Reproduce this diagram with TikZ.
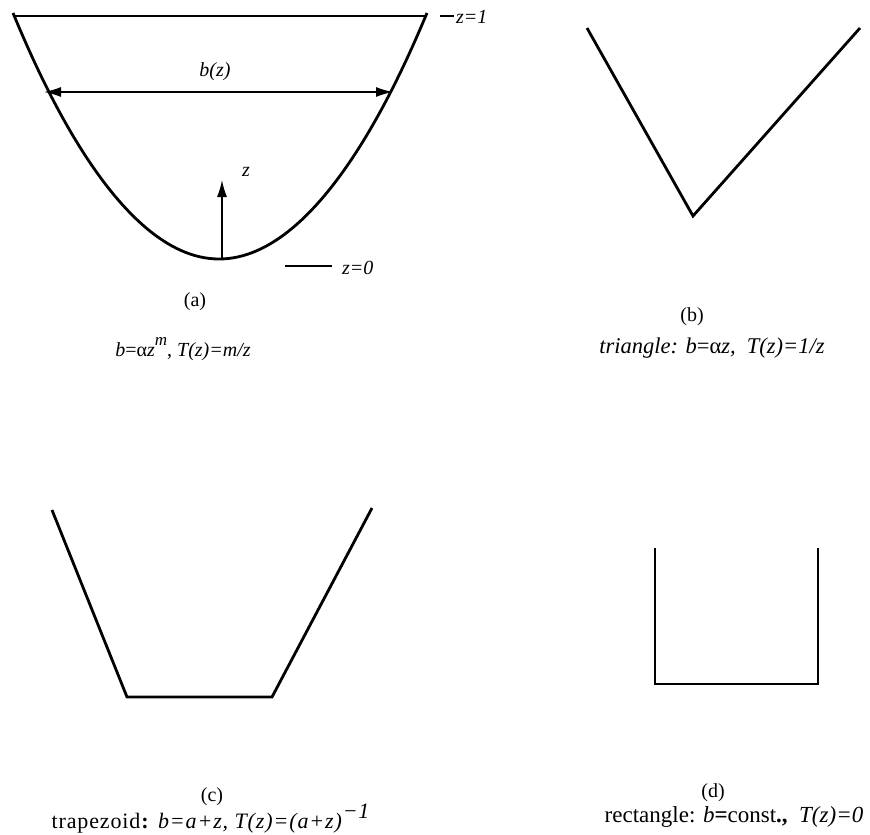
\documentclass[tikz,border=0pt]{standalone}
\usepackage{fontspec}
\setmainfont{Liberation Serif}
\usetikzlibrary{arrows.meta}
\newcommand{\fs}[1]{\fontsize{#1}{#1}\selectfont}
\newcommand{\bigsup}[1]{\raisebox{0.55em}{\fs{17}#1}}
\begin{document}
\begin{tikzpicture}[x=1pt,y=-1pt,
  outline/.style={line width=2.8pt,line join=miter},
  thinline/.style={line width=1.4pt},
  tip/.tip={Latex[length=17pt,width=10pt]},
  arr/.style={line width=1.4pt,-tip},
  dblarr/.style={line width=1.4pt,tip-tip},
  lbl/.style={font=\fs{20},inner sep=0pt},
  every node/.style={inner sep=0pt}]
\useasboundingbox (0,0) rectangle (870,835);
% (a)
\draw[outline] (13,13) parabola bend (219,259) (427,13);
\draw[thinline] (13,16) -- (427,16);
\coordinate (bl) at (44,92);
\coordinate (br) at (393,92);
\draw[dblarr] (bl) -- (br);
\node[lbl] (bz) at (215,72) {\textit{b(z)}};
\coordinate (zb) at (222,259);
\coordinate (zt) at (222,180);
\draw[arr] (zb) -- (zt);
\node[lbl] (zl) at (246,172) {\textit{z}};
\coordinate (z0a) at (285,266);
\coordinate (z0b) at (332,266);
\draw[thinline] (z0a) -- (z0b);
\node[lbl,anchor=west] (z0) at (342,268) {\textit{z=0}};
\coordinate (z1a) at (440,16);
\coordinate (z1b) at (454,16);
\draw[thinline] (z1a) -- (z1b);
\node[lbl,anchor=west] (z1) at (456,17) {\textit{z=1}};
\node[lbl] (la) at (195,302) {(a)};
\node[lbl] (ta) at (183,349) {\textit{b}=α\textit{z}\bigsup{\textit{m}}, \textit{T(z)=m/z}};
% (b)
\draw[outline] (587,28) -- (693,216) -- (860,28);
\node[lbl] (lb) at (692,317) {(b)};
\node[lbl,font=\fs{22.5}] (tb) at (712,348) {\textit{triangle: b}=α\textit{z,\ \ T(z)=1/z}};
% (c)
\draw[outline] (52,510) -- (127,697) -- (272,697) -- (372,508);
\node[lbl] (lc) at (212,797) {(c)};
\node[lbl,font=\fs{22}\addfontfeature{LetterSpace=4}] (tc) at (211,819) {trapezoid\textbf{:} \textit{b=a+z, T(z)=(a+z)}\raisebox{0.45em}{\textit{−1}}};
% (d)
\draw[outline] (655,548) -- (655,684) -- (818,684) -- (818,548);
\node[lbl] (ld) at (713,793) {(d)};
\node[lbl,font=\fs{23}] (td) at (734,817) {rectangle: \textit{b}\textbf{=}const\textbf{.,} \ \textit{T(z)=0}};
\end{tikzpicture}
\end{document}
